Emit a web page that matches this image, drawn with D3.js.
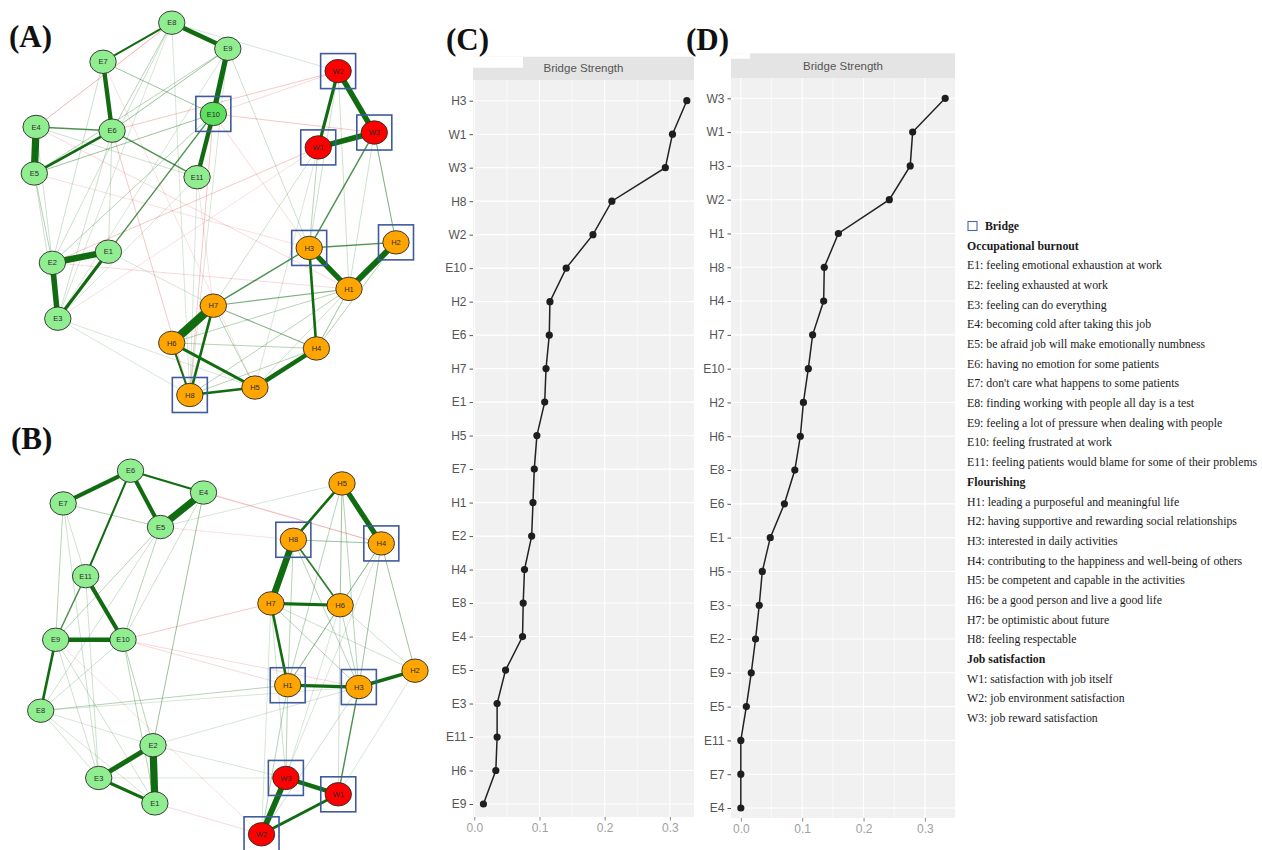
<!DOCTYPE html>
<html>
<head>
<meta charset="utf-8">
<script src="https://cdn.jsdelivr.net/npm/d3@7"></script>
<style>
  body { margin: 0; background: #fff; }
</style>
</head>
<body>
<svg id="fig"></svg>
<script>
// ---- data ----
// network layouts, qgraph-style coordinates in [-1, 1]
const layoutA = [
  ["E1", -0.59, -0.23], ["E2", -0.90, -0.29], ["E3", -0.87, -0.59], ["E4", -0.99, 0.44],
  ["E5", -1.00, 0.19], ["E6", -0.57, 0.42], ["E7", -0.62, 0.79], ["E8", -0.24, 1.00],
  ["E9", 0.07, 0.86], ["E10", -0.01, 0.51], ["E11", -0.10, 0.17],
  ["H1", 0.74, -0.43], ["H2", 1.00, -0.18], ["H3", 0.52, -0.21], ["H4", 0.56, -0.75],
  ["H5", 0.22, -0.96], ["H6", -0.24, -0.72], ["H7", -0.01, -0.52], ["H8", -0.14, -1.00],
  ["W1", 0.57, 0.33], ["W2", 0.68, 0.74], ["W3", 0.88, 0.41]
];
const layoutB = [
  ["E1", -0.39, -0.83], ["E2", -0.40, -0.51], ["E3", -0.69, -0.69], ["E4", -0.13, 0.88],
  ["E5", -0.36, 0.69], ["E6", -0.52, 1.00], ["E7", -0.88, 0.82], ["E8", -1.00, -0.32],
  ["E9", -0.92, 0.07], ["E10", -0.56, 0.07], ["E11", -0.76, 0.42],
  ["H1", 0.32, -0.18], ["H2", 1.00, -0.10], ["H3", 0.70, -0.19], ["H4", 0.82, 0.60],
  ["H5", 0.61, 0.93], ["H6", 0.60, 0.26], ["H7", 0.23, 0.27], ["H8", 0.35, 0.62],
  ["W1", 0.59, -0.78], ["W2", 0.18, -1.00], ["W3", 0.31, -0.69]
];

// edges: [from, to, weight]  (negative = red)
const edgesA = [
  ["E4", "E5", 0.50], ["E8", "E9", 0.32], ["E9", "E10", 0.36], ["E10", "E11", 0.30],
  ["E7", "E6", 0.30], ["E8", "E7", 0.14], ["E4", "E6", 0.10], ["E5", "E6", 0.18],
  ["E6", "E11", 0.10], ["E2", "E1", 0.45], ["E2", "E3", 0.38], ["E1", "E3", 0.22],
  ["E1", "E10", 0.10], ["W2", "W3", 0.38], ["W1", "W3", 0.38], ["W2", "W1", 0.22],
  ["W3", "H3", 0.10], ["W3", "H2", 0.07], ["H3", "H2", 0.10], ["H3", "H1", 0.36],
  ["H2", "H1", 0.40], ["H3", "H4", 0.18], ["H7", "H6", 0.58], ["H7", "H8", 0.18],
  ["H6", "H8", 0.14], ["H6", "H5", 0.20], ["H8", "H5", 0.18], ["H5", "H4", 0.30],
  ["H7", "H3", 0.10], ["H7", "H1", 0.07], ["H7", "H4", 0.07], ["H1", "H4", 0.06],
  ["H2", "H4", 0.05],
  ["E7", "E10", 0.06], ["E9", "E6", 0.06], ["E9", "E5", 0.05], ["E8", "E6", 0.05],
  ["E8", "E2", 0.04], ["E8", "E3", 0.03], ["E9", "E3", 0.03], ["E9", "H3", 0.04],
  ["E10", "E5", 0.06], ["E10", "E2", 0.05], ["E4", "E11", 0.04], ["E4", "E2", 0.04],
  ["E5", "E2", 0.05], ["E5", "E3", 0.04], ["E6", "E3", 0.04], ["E7", "E2", 0.04],
  ["E11", "E3", 0.03], ["E1", "E6", 0.04], ["E3", "H5", 0.03], ["E3", "H8", 0.03],
  ["W1", "H3", 0.05], ["W1", "H7", 0.04], ["W2", "H1", 0.04], ["W2", "H3", 0.04],
  ["W1", "H5", 0.03], ["H8", "H1", 0.05], ["H8", "H4", 0.05], ["H6", "H1", 0.05],
  ["H6", "H4", 0.05], ["H5", "H1", 0.04], ["H7", "H5", 0.05], ["E9", "H8", 0.03],
  ["E8", "H8", 0.03], ["E11", "H8", 0.03], ["E1", "H7", 0.03], ["E8", "W2", 0.03],
  ["W3", "H1", 0.04],
  ["E4", "E8", -0.06], ["E6", "W2", -0.05], ["E10", "W2", -0.04], ["E10", "W3", -0.05],
  ["E2", "W1", -0.05], ["E4", "H1", -0.04], ["E5", "H3", -0.03], ["E2", "H1", -0.04],
  ["E10", "H8", -0.05], ["E6", "H8", -0.05], ["E10", "H3", -0.04], ["E7", "H5", -0.03],
  ["E11", "H7", -0.03], ["E3", "W1", -0.03]
];
const edgesB = [
  ["E6", "E7", 0.28], ["E6", "E5", 0.28], ["E6", "E4", 0.14], ["E4", "E5", 0.48],
  ["E6", "E11", 0.14], ["E11", "E10", 0.28], ["E11", "E9", 0.10], ["E9", "E10", 0.30],
  ["E9", "E8", 0.18], ["E2", "E3", 0.34], ["E2", "E1", 0.50], ["E3", "E1", 0.22],
  ["E7", "E5", 0.05], ["E7", "E9", 0.05], ["E7", "E3", 0.04], ["E7", "E11", 0.04],
  ["E5", "E9", 0.05], ["E5", "E10", 0.05], ["E5", "E8", 0.04], ["E4", "E2", 0.06],
  ["E4", "E10", 0.04], ["E11", "E3", 0.04], ["E9", "E3", 0.04], ["E9", "E1", 0.04],
  ["E10", "E2", 0.05], ["E10", "E1", 0.05], ["E8", "E3", 0.04], ["E8", "E1", 0.03],
  ["E8", "E2", 0.03], ["E10", "E8", 0.04], ["E8", "H1", 0.05], ["E8", "H3", 0.03],
  ["E2", "W3", 0.03], ["E2", "H3", 0.03], ["E5", "H5", 0.03], ["E3", "W3", 0.03],
  ["E4", "H4", -0.05], ["E10", "H1", -0.04], ["E10", "H3", -0.04], ["E10", "H7", -0.05],
  ["E1", "W2", -0.04], ["E5", "H8", -0.03], ["E9", "W2", -0.03], ["E6", "H4", -0.03],
  ["H5", "H8", 0.18], ["H5", "H4", 0.36], ["H5", "H6", 0.06], ["H5", "H1", 0.05],
  ["H5", "H3", 0.05], ["H8", "H7", 0.45], ["H8", "H6", 0.12], ["H8", "H4", 0.06],
  ["H8", "H1", 0.05], ["H8", "H3", 0.05], ["H7", "H6", 0.22], ["H7", "H1", 0.18],
  ["H7", "H3", 0.05], ["H1", "H3", 0.22], ["H3", "H2", 0.24], ["H4", "H2", 0.06],
  ["H4", "H3", 0.06], ["H4", "H6", 0.05], ["H4", "H1", 0.05], ["H6", "H1", 0.05],
  ["H6", "H3", 0.05], ["H6", "H2", 0.04], ["H7", "H2", 0.04],
  ["W3", "W1", 0.30], ["W3", "W2", 0.40], ["W1", "W2", 0.20], ["W1", "H3", 0.10],
  ["W3", "H1", 0.05], ["W2", "H1", 0.05], ["W3", "H7", 0.04], ["W1", "H6", 0.04],
  ["W2", "H3", 0.04], ["W1", "H2", 0.03], ["W2", "H7", 0.03], ["W3", "H6", 0.03],
  ["W2", "H4", 0.03]
];
const bridgeA = ["E10", "W2", "W3", "W1", "H3", "H2", "H8"];
const bridgeB = ["H8", "H4", "H1", "H3", "W3", "W1", "W2"];

// bridge strength, panel C and D (top to bottom)
const catsC = ["H3", "W1", "W3", "H8", "W2", "E10", "H2", "E6", "H7", "E1", "H5",
  "E7", "H1", "E2", "H4", "E8", "E4", "E5", "E3", "E11", "H6", "E9"];
const valsC = [0.326, 0.304, 0.293, 0.211, 0.182, 0.141, 0.116, 0.115, 0.110, 0.108, 0.096,
  0.092, 0.090, 0.088, 0.077, 0.075, 0.074, 0.048, 0.035, 0.035, 0.033, 0.014];
const catsD = ["W3", "W1", "H3", "W2", "H1", "H8", "H4", "H7", "E10", "H2", "H6",
  "E8", "E6", "E1", "H5", "E3", "E2", "E9", "E5", "E11", "E7", "E4"];
const valsD = [0.333, 0.280, 0.276, 0.242, 0.159, 0.136, 0.135, 0.117, 0.110, 0.102, 0.097,
  0.088, 0.071, 0.048, 0.035, 0.030, 0.024, 0.017, 0.009, 0.000, 0.000, 0.000];
const xTicks = [0, 0.1, 0.2, 0.3];
const xMinor = [0.05, 0.15, 0.25];

// legend
const burnoutItems = [
  "E1: feeling emotional exhaustion at work",
  "E2: feeling exhausted at work",
  "E3: feeling can do everything",
  "E4: becoming cold after taking this job",
  "E5: be afraid job will make emotionally numbness",
  "E6: having no emotion for some patients",
  "E7: don't care what happens to some patients",
  "E8: finding working with people all day is a test",
  "E9: feeling a lot of pressure when dealing with people",
  "E10: feeling frustrated at work",
  "E11: feeling patients would blame for some of their problems"
];
const flourishItems = [
  "H1: leading a purposeful and meaningful life",
  "H2: having supportive and rewarding social relationships",
  "H3: interested in daily activities",
  "H4: contributing to the happiness and well-being of others",
  "H5: be competent and capable in the activities",
  "H6: be a good person and live a good life",
  "H7: be optimistic about future",
  "H8: feeling respectable"
];
const jobItems = [
  "W1: satisfaction with job itself",
  "W2: job environment satisfaction",
  "W3: job reward satisfaction"
];

// ---- drawing ----
const W = 1262, H = 850;
const svg = d3.select("#fig").attr("width", W).attr("height", H);
svg.append("rect").attr("width", W).attr("height", H).attr("fill", "#fff");

const sans = "'Liberation Sans', Arial, Helvetica, sans-serif";
const serif = "'Liberation Serif', 'Times New Roman', serif";
const boxBlue = "#3f5b9c";

const edgeW = d3.scaleLinear().domain([0, 0.55]).range([0, 8]);
const edgeA = d3.scaleLinear().domain([0.02, 0.14]).range([0.22, 1]).clamp(true);

function nodeFill(id, hot) {
  if (id === hot) return "#5ee05e";
  if (id[0] === "E") return "#90ee90";
  if (id[0] === "H") return "#ffa500";
  return "#ff0000";
}

function drawNetwork(layout, edges, bridges, xr, yr, hot) {
  const x = d3.scaleLinear().domain([-1, 1]).range(xr);
  const y = d3.scaleLinear().domain([-1, 1]).range(yr);
  const pos = new Map(layout.map(d => [d[0], [x(d[1]), y(d[2])]]));
  const g = svg.append("g");

  const sorted = edges.slice().sort((a, b) => Math.abs(a[2]) - Math.abs(b[2]));
  g.selectAll(".edge")
    .data(sorted)
    .enter().append("line")
    .attr("class", "edge")
    .attr("x1", d => pos.get(d[0])[0])
    .attr("y1", d => pos.get(d[0])[1])
    .attr("x2", d => pos.get(d[1])[0])
    .attr("y2", d => pos.get(d[1])[1])
    .attr("stroke", d => d[2] > 0 ? "#116c11" : "#dd4a4a")
    .attr("stroke-opacity", d => edgeA(Math.abs(d[2])))
    .attr("stroke-width", d => Math.max(0.6, edgeW(Math.abs(d[2]))))
    .attr("stroke-linecap", "round");

  const node = g.selectAll(".node")
    .data(layout)
    .enter().append("g")
    .attr("class", "node")
    .attr("transform", d => "translate(" + pos.get(d[0])[0] + "," + pos.get(d[0])[1] + ")");

  node.append("ellipse")
    .attr("rx", 13.2)
    .attr("ry", 11.7)
    .attr("fill", d => nodeFill(d[0], hot))
    .attr("stroke", "#2a2a2a")
    .attr("stroke-width", 0.9);

  node.append("text")
    .attr("text-anchor", "middle")
    .attr("dy", "0.35em")
    .attr("font-family", sans)
    .attr("font-size", 7.5)
    .attr("fill", "#2b2b2b")
    .text(d => d[0]);

  g.selectAll(".bridge")
    .data(bridges)
    .enter().append("rect")
    .attr("class", "bridge")
    .attr("x", d => pos.get(d)[0] - 17.5)
    .attr("y", d => pos.get(d)[1] - 17.5)
    .attr("width", 35)
    .attr("height", 35)
    .attr("fill", "none")
    .attr("stroke", boxBlue)
    .attr("stroke-width", 1.6);
}

drawNetwork(layoutA, edgesA, bridgeA, [34.3, 396], [395, 22.7], "E10");
drawNetwork(layoutB, edgesB, bridgeB, [40.7, 415], [834.3, 470.7], null);

function drawStrength(cats, vals, p) {
  const x = d3.scaleLinear().domain(p.domain).range([p.left, p.right]);
  const y = d3.scalePoint().domain(cats).range([p.yFirst, p.yLast]);
  const g = svg.append("g");

  // panel + strip
  g.append("rect")
    .attr("x", p.left).attr("y", p.stripBottom)
    .attr("width", p.right - p.left).attr("height", p.bottom - p.stripBottom)
    .attr("fill", "#f1f1f1");
  g.append("rect")
    .attr("x", p.left).attr("y", p.stripTop)
    .attr("width", p.right - p.left).attr("height", p.stripBottom - p.stripTop)
    .attr("fill", "#e4e4e4");
  g.append("text")
    .attr("x", (p.left + p.right) / 2)
    .attr("y", (p.stripTop + p.stripBottom) / 2)
    .attr("dy", "0.35em")
    .attr("text-anchor", "middle")
    .attr("font-family", sans)
    .attr("font-size", 11.5)
    .attr("fill", "#555")
    .text("Bridge Strength");

  // grid
  g.selectAll(".minor")
    .data(xMinor)
    .enter().append("line")
    .attr("x1", d => x(d)).attr("x2", d => x(d))
    .attr("y1", p.stripBottom).attr("y2", p.bottom)
    .attr("stroke", "#fff").attr("stroke-width", 0.6);
  g.selectAll(".vmajor")
    .data(xTicks)
    .enter().append("line")
    .attr("x1", d => x(d)).attr("x2", d => x(d))
    .attr("y1", p.stripBottom).attr("y2", p.bottom)
    .attr("stroke", "#fff").attr("stroke-width", 1.1);
  g.selectAll(".hmajor")
    .data(cats)
    .enter().append("line")
    .attr("x1", p.left).attr("x2", p.right)
    .attr("y1", d => y(d)).attr("y2", d => y(d))
    .attr("stroke", "#fff").attr("stroke-width", 1.1);

  // axes
  const ya = g.append("g")
    .attr("transform", "translate(" + p.left + ",0)")
    .call(d3.axisLeft(y).tickSize(3.5).tickPadding(3));
  ya.select(".domain").remove();
  ya.selectAll("line").attr("stroke", "#555");
  ya.selectAll("text").attr("font-family", sans).attr("font-size", 12).attr("fill", "#555");

  const xa = g.append("g")
    .attr("transform", "translate(0," + p.bottom + ")")
    .call(d3.axisBottom(x).tickValues(xTicks).tickFormat(d3.format(".1f")).tickSize(3.5).tickPadding(3));
  xa.select(".domain").remove();
  xa.selectAll("line").attr("stroke", "#888");
  xa.selectAll("text").attr("font-family", sans).attr("font-size", 12).attr("fill", "#a0a0a0");

  // line + points
  const pts = cats.map((c, i) => [vals[i], c]);
  g.append("path")
    .datum(pts)
    .attr("fill", "none")
    .attr("stroke", "#222")
    .attr("stroke-width", 1.5)
    .attr("d", d3.line().x(d => x(d[0])).y(d => y(d[1])));
  g.selectAll(".pt")
    .data(pts)
    .enter().append("circle")
    .attr("class", "pt")
    .attr("cx", d => x(d[0]))
    .attr("cy", d => y(d[1]))
    .attr("r", 3.6)
    .attr("fill", "#1e1e1e");

  // white label backing that clips the strip corner
  g.append("rect")
    .attr("x", p.left).attr("y", p.stripTop)
    .attr("width", p.notchW).attr("height", p.notchH)
    .attr("fill", "#fff");
}

drawStrength(catsC, valsC, {
  left: 473, right: 694, stripTop: 56.7, stripBottom: 80, bottom: 817,
  yFirst: 100.7, yLast: 804, domain: [-0.002, 0.337], notchW: 50, notchH: 11
});
drawStrength(catsD, valsD, {
  left: 731, right: 955, stripTop: 53.3, stripBottom: 78.3, bottom: 818,
  yFirst: 98.3, yLast: 808, domain: [-0.016, 0.349], notchW: 19, notchH: 5.5
});

// panel letters
const letters = [["(A)", 9, 47], ["(B)", 11, 449], ["(C)", 446, 50], ["(D)", 686, 50]];
svg.selectAll(".letter")
  .data(letters)
  .enter().append("text")
  .attr("x", d => d[1])
  .attr("y", d => d[2])
  .attr("font-family", serif)
  .attr("font-weight", "bold")
  .attr("font-size", 31)
  .attr("fill", "#111")
  .text(d => d[0]);

// legend
const lines = [{ t: "Bridge", b: true, box: true }, { t: "Occupational burnout", b: true }]
  .concat(burnoutItems.map(t => ({ t })))
  .concat([{ t: "Flourishing", b: true }])
  .concat(flourishItems.map(t => ({ t })))
  .concat([{ t: "Job satisfaction", b: true }])
  .concat(jobItems.map(t => ({ t })));
const ly = d3.scaleLinear().domain([0, lines.length - 1]).range([230, 722]);
const leg = svg.append("g");
leg.selectAll("text")
  .data(lines)
  .enter().append("text")
  .attr("x", d => d.box ? 985 : 967)
  .attr("y", (d, i) => ly(i))
  .attr("font-family", serif)
  .attr("font-size", 11.8)
  .attr("font-weight", d => d.b ? "bold" : "normal")
  .attr("fill", "#1a1a1a")
  .text(d => d.t);
leg.append("rect")
  .attr("x", 968).attr("y", ly(0) - 8.5)
  .attr("width", 9).attr("height", 9)
  .attr("fill", "none")
  .attr("stroke", "#4a66aa")
  .attr("stroke-width", 1.1);
</script>
</body>
</html>
